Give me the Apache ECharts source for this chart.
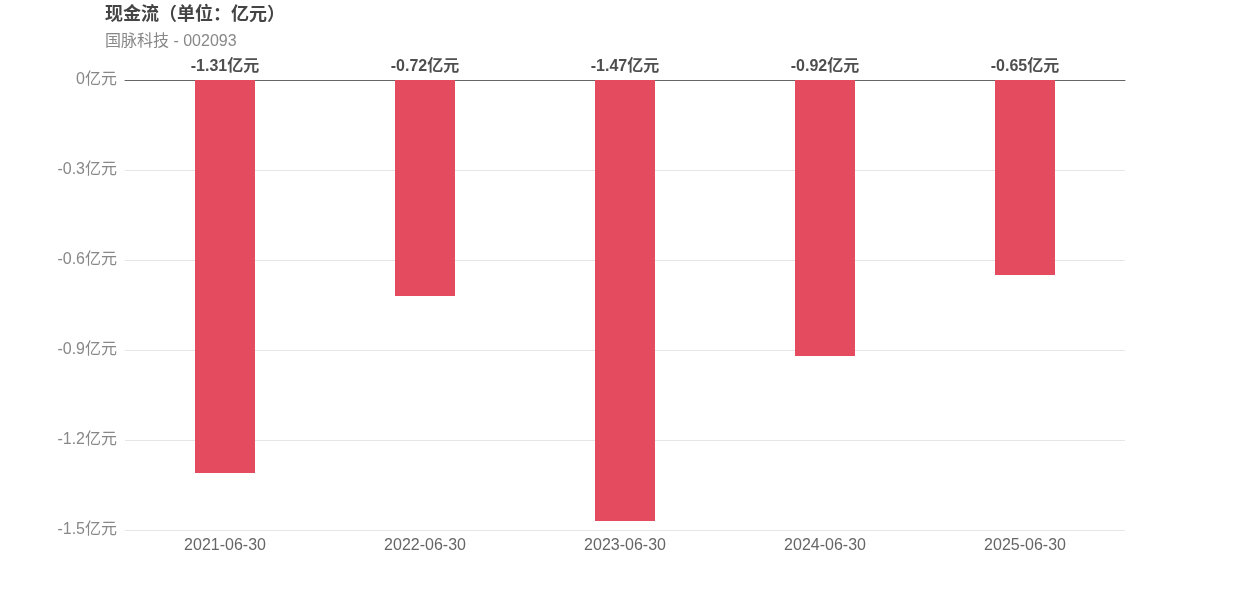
<!DOCTYPE html>
<html><head><meta charset="utf-8">
<script src="https://cdn.jsdelivr.net/npm/echarts@6/dist/echarts.min.js"></script>
<style>html,body{margin:0;padding:0;background:#fff}#c{width:1250px;height:600px}</style>
</head><body><div id="c"></div>
<script>
const categories = ['2021-06-30','2022-06-30','2023-06-30','2024-06-30','2025-06-30'];
const cashFlow = [-1.31, -0.72, -1.47, -0.92, -0.65];
const yTicks = { min: -1.5, max: 0, interval: 0.3 };
const chart = echarts.init(document.getElementById('c'));
chart.setOption({
  animation: false,
  textStyle: { fontFamily: 'Liberation Sans, Noto Sans CJK SC, sans-serif' },
  title: {
    text: '现金流（单位：亿元）', subtext: '国脉科技 - 002093',
    left: 100, top: 1, itemGap: 10,
    textStyle: { fontSize: 18, fontWeight: 'bold', color: '#444' },
    subtextStyle: { fontSize: 16, color: '#888' }
  },
  grid: { left: 125, right: 125, top: 80, bottom: 70, containLabel: false },
  xAxis: [{
    type: 'category', data: categories, position: 'bottom',
    axisLine: { show: false, onZero: false }, axisTick: { show: false },
    axisLabel: { fontSize: 16, color: '#666', margin: 8 }
  }, {
    type: 'category', data: categories, position: 'top',
    axisLine: { show: true, onZero: false, lineStyle: { color: '#666' } },
    axisTick: { show: false }, axisLabel: { show: false }
  }],
  yAxis: {
    type: 'value', min: yTicks.min, max: yTicks.max, interval: yTicks.interval,
    axisLabel: { fontSize: 16, color: '#888', margin: 8, padding: [2, 0, 0, 0],
      formatter: v => (Math.round(v * 10) / 10) + '亿元' },
    splitLine: { lineStyle: { color: '#e6e6e6' } },
    axisLine: { show: false }, axisTick: { show: false }
  },
  series: [{
    type: 'bar', data: cashFlow, barWidth: 60, xAxisIndex: 0,
    itemStyle: { color: '#e54b5f' },
    label: { show: false }
  }, {
    type: 'scatter', xAxisIndex: 0, symbolSize: 0,
    data: cashFlow.map(v => ({ value: 0 })),
    label: { show: true, position: 'top', distance: 5, fontSize: 16, fontWeight: 'bold', color: '#222',
      formatter: p => cashFlow[p.dataIndex].toFixed(2) + '亿元' },
    silent: true
  }]
});
</script></body></html>
